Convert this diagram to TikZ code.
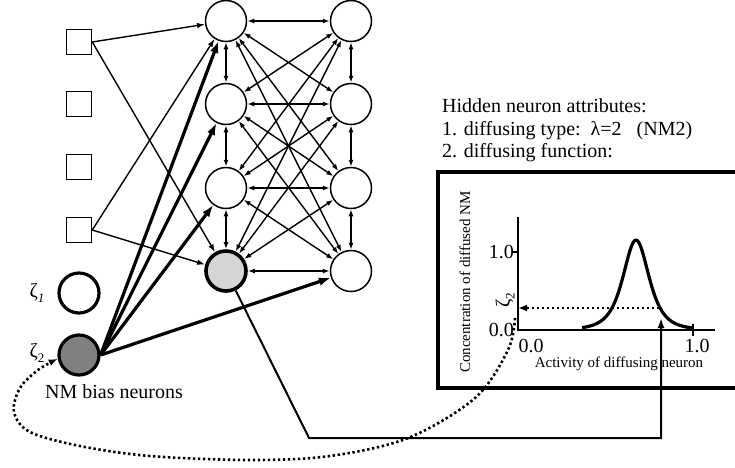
\documentclass[tikz,border=0pt]{standalone}
\usepackage{fontspec}
\setmainfont{Liberation Serif}
\usetikzlibrary{arrows.meta}
\begin{document}
\begin{tikzpicture}[x=1pt,y=-1pt,
  neuron/.style={circle,draw,line width=1.5pt,minimum size=41pt,inner sep=0pt,fill=white},
  inbox/.style={rectangle,draw,line width=1.5pt,minimum size=25pt,inner sep=0pt},
  bias/.style={circle,draw,line width=3.2pt,minimum size=40pt,inner sep=0pt},
  link/.style={line width=1.4pt,{Latex[length=7pt,width=5pt]}-{Latex[length=7pt,width=5pt]}},
  feed/.style={line width=1.4pt,-{Latex[length=8pt,width=5.5pt]}},
  strong/.style={line width=3.2pt,-{Latex[length=12pt,width=8.5pt]}},
  dotline/.style={line width=2.6pt,dash pattern=on 2.4pt off 2.6pt},
  big/.style={font=\fontsize{20}{22}\selectfont},
  small/.style={font=\fontsize{15}{17}\selectfont},
  lbl/.style={inner sep=0pt}
]
\useasboundingbox (0,0) rectangle (735,467);

% input units
\node[inbox] (S1) at (79,42) {};
\node[inbox] (S2) at (79,104) {};
\node[inbox] (S3) at (79,167) {};
\node[inbox] (S4) at (79,230) {};

% neuromodulatory bias neurons
\node[bias] (Z1) at (79,293) {};
\node[bias,fill=black!50] (Z2) at (79,355) {};
\node[big,lbl] (z1lbl) at (37,293) {ζ\raisebox{-5pt}{\fontsize{13}{13}\selectfont\itshape 1}};
\node[big,lbl] (z2lbl) at (37,353) {ζ\raisebox{-5pt}{\fontsize{13}{13}\selectfont 2}};
\node[big,lbl] (biaslbl) at (114,392) {NM bias neurons};

% hidden layer
\foreach \r/\y in {1/21,2/104,3/188,4/271}{
  \node[neuron] (R\r) at (351,\y) {};
}
\node[neuron] (L1) at (226,21) {};
\node[neuron] (L2) at (226,104) {};
\node[neuron] (L3) at (226,188) {};
\node[neuron,line width=3.6pt,minimum size=40pt,fill=black!16] (L4) at (226,271) {};

% recurrent links
\foreach \i in {1,...,4}{
  \foreach \j in {1,...,4}{
    \draw[link] (L\i) -- (R\j);
  }
}
\foreach \i/\k in {1/2,2/3,3/4}{
  \draw[link] (L\i) -- (L\k);
  \draw[link] (R\i) -- (R\k);
}

% input connections
\draw[feed] (S1.east) -- (L1);
\draw[feed] (S1.east) -- (L4);
\draw[feed] (S4.east) -- (L1);
\draw[feed] (S4.east) -- (L4);

% bias connections
\draw[strong] (Z2.east) -- (L1);
\draw[strong] (Z2.east) -- (L2);
\draw[strong] (Z2.east) -- (L3);
\draw[strong] (Z2.east) -- (R4);

% attribute text
\node[big,lbl,anchor=base west] (att0) at (442,112) {Hidden neuron attributes:};
\node[big,lbl,anchor=base west] (att1) at (442,135) {1. diffusing type:\ \ λ=2\ \ \ (NM2)};
\node[big,lbl,anchor=base west] (att2) at (442,157) {2. diffusing function:};

% diffusing function panel
\draw[line width=3.2pt] (438,172) rectangle (760,388);
\draw[line width=1.5pt] (518,217) -- (518,330) -- (715,330);
\draw[line width=1.5pt] (512,252) -- (519,252);
\draw[line width=1.5pt] (693,324) -- (693,336);
\draw[line width=3.2pt,line join=round]
  plot[domain=582:693,samples=80] (\x,{330-90/(1+((\x-636)/23.8)^2)^2});

\node[big,lbl,anchor=east] (y1) at (514,252) {1.0};
\node[big,lbl,anchor=east] (y0) at (514,330) {0.0};
\node[big,lbl] (x0) at (531,346) {0.0};
\node[big,lbl] (x1) at (697,346) {1.0};
\node[small,lbl] (xlab) at (619,364) {Activity of diffusing neuron};
\node[small,lbl,rotate=90] (ylab) at (465,282) {Concentration of diffused NM};
\node[big,lbl,rotate=90] (zeta) at (505,300) {ζ\raisebox{-5pt}{\fontsize{13}{13}\selectfont 2}};

% activity of the diffusing neuron fed into the function
\coordinate (o1) at (309,438);
\coordinate (o2) at (661,438);
\coordinate (o3) at (661,318);
\draw[line width=2pt,-{Latex[length=10pt,width=7pt]}] (L4) -- (o1) -- (o2) -- (o3);

% concentration read off and fed back to the bias neuron
\coordinate (zc) at (659,308);
\coordinate (zy) at (518,308);
\draw[dotline,-{Latex[length=9pt,width=7pt]}] (zc) -- (zy);
\coordinate (fb) at (515,318);
\draw[dotline,-{Latex[length=9pt,width=7pt]}]
  plot[smooth,tension=0.55] coordinates {(fb) (508,350) (475,398) (408,438) (330,456) (250,460) (150,456) (80,446) (30,432) (14,412) (20,388) (38,370) (Z2.190)};
\end{tikzpicture}
\end{document}
